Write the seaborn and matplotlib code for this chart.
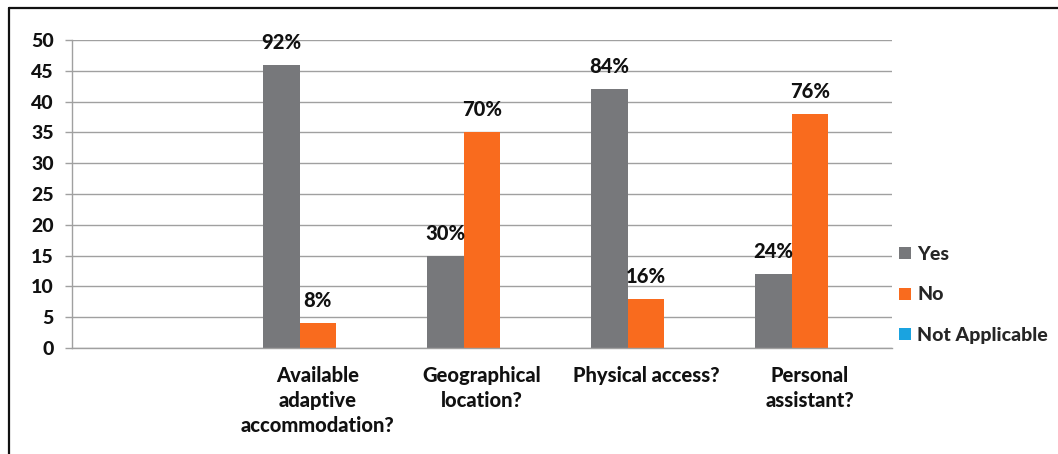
import matplotlib
matplotlib.use("Agg")
import matplotlib.pyplot as plt
from matplotlib.lines import Line2D
import seaborn as sns
import pandas as pd

# Survey results (number of respondents)
categories = [
    "Available\nadaptive\naccommodation?",
    "Geographical\nlocation?",
    "Physical access?",
    "Personal\nassistant?",
]
yes_counts = [46, 15, 42, 12]
no_counts = [4, 35, 8, 38]
na_counts = [0, 0, 0, 0]
series_names = ["Yes", "No", "Not Applicable"]
colors = ["#77787B", "#F96B1E", "#1AA3E0"]
y_ticks = list(range(0, 55, 5))

sns.set_theme(style="white")
plt.rcParams["font.family"] = ["Lato", "DejaVu Sans"]
plt.rcParams["font.weight"] = "bold"

FS = 14.5
TXT = "#111111"

rows = []
for name, vals in zip(series_names, [yes_counts, no_counts, na_counts]):
    for cat, v in zip(categories, vals):
        rows.append({"question": cat, "answer": name, "count": v})
df = pd.DataFrame(rows)

order = [""] + categories
fig = plt.figure(figsize=(10.58, 4.54), dpi=100)
ax = fig.add_axes([0.068, 0.2335, 0.775, 0.6784])

sns.barplot(
    data=df, x="question", y="count", hue="answer",
    order=order, hue_order=series_names, palette=colors, saturation=1,
    width=0.67, gap=0, linewidth=0, errorbar=None, legend=False, ax=ax,
)

ax.set_xlim(-0.5, len(order) - 0.5)
ax.set_ylim(0, 50)
ax.set_yticks(y_ticks)
ax.set_yticklabels([str(t) for t in y_ticks], fontsize=14, fontweight="black", color=TXT)
ax.yaxis.grid(True, color="#A0A0A0", linewidth=1.0)
ax.set_axisbelow(True)

# Ticks between categories, labels centered under each category
ax.set_xticks([i - 0.5 for i in range(len(order) + 1)])
ax.set_xticklabels([])
ax.set_xticks(range(len(order)), minor=True)
ax.set_xticklabels(order, minor=True, fontsize=FS, fontweight="black",
                   color=TXT, linespacing=1.38, va="top")
ax.tick_params(axis="x", which="major", length=5, width=1, color="#A0A0A0", direction="out")
ax.tick_params(axis="x", which="minor", length=0, pad=13)
ax.tick_params(axis="y", length=5, width=1, color="#A0A0A0", direction="out", pad=8, left=True)
ax.set_xlabel("")
ax.set_ylabel("")

for side in ["top", "right"]:
    ax.spines[side].set_visible(False)
for side in ["left", "bottom"]:
    ax.spines[side].set_color("#A0A0A0")
    ax.spines[side].set_linewidth(1.0)

# Percentage labels above the Yes / No bars
totals = [y + n + a for y, n, a in zip(yes_counts, no_counts, na_counts)]
for container, vals in zip(ax.containers[:2], [yes_counts, no_counts]):
    for bar, v, tot in zip(container, vals, totals):
        cx = bar.get_x() + bar.get_width() / 2
        ax.annotate(f"{round(v / tot * 100)}%", (cx, v), xytext=(0, 13),
                    textcoords="offset pixels", ha="center", va="bottom",
                    fontsize=FS, fontweight="black", color=TXT)

handles = [Line2D([], [], marker="s", linestyle="", markersize=8,
                  markerfacecolor=c, markeredgewidth=0) for c in colors]
fig.legend(handles, series_names, loc="upper left",
           bbox_to_anchor=(0.841, 1 - 236 / 454), frameon=False,
           prop={"weight": "black", "size": 14},
           handlelength=0.6, handletextpad=0.3, labelspacing=1.22, borderpad=0)

# Frame lines along the top and left edges
fig.add_artist(Line2D([9 / 1058, 1.0], [1 - 8 / 454, 1 - 8 / 454],
                      transform=fig.transFigure, color=TXT, linewidth=1.6))
fig.add_artist(Line2D([9 / 1058, 9 / 1058], [0, 1 - 8 / 454],
                      transform=fig.transFigure, color=TXT, linewidth=1.6))

fig.savefig("out.png", dpi=100)
